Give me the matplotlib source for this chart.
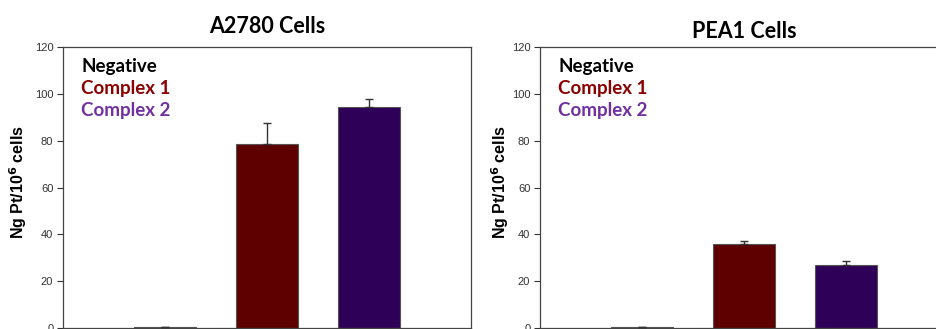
import matplotlib
matplotlib.use("Agg")
import matplotlib.pyplot as plt

# Data: Pt uptake (ng Pt per 10^6 cells)
groups = ["Negative", "Complex 1", "Complex 2"]
a2780_values = [0.5, 78.5, 94.4]
a2780_errors = [0.0, 9.2, 3.3]
pea1_values = [0.5, 36.0, 26.8]
pea1_errors = [0.0, 1.0, 2.0]
panel_titles = ["A2780 Cells", "PEA1 Cells"]
yticks = [0, 20, 40, 60, 80, 100, 120]

bar_colors = ["#4a4a4a", "#5e0000", "#2f0058"]
label_colors = ["#000000", "#8b0000", "#7030a0"]

fig = plt.figure(figsize=(9.36, 3.29), dpi=100)

W, H = 936.0, 329.0
def frac_rect(x0, x1, ytop, ybot):
    return [x0 / W, (H - ybot) / H, (x1 - x0) / W, (ybot - ytop) / H]

ax1 = fig.add_axes(frac_rect(63, 471, 47, 328))
ax2 = fig.add_axes(frac_rect(540, 948, 47, 328))

panels = [
    (ax1, a2780_values, a2780_errors, panel_titles[0], -0.083, 1.050),
    (ax2, pea1_values, pea1_errors, panel_titles[1], -0.072, 1.032),
]

positions = [1, 2, 3]
for ax, vals, errs, title, ylab_x, title_y in panels:
    ax.bar(positions, vals, width=0.6, color=bar_colors,
           edgecolor="#555555", linewidth=0.8, zorder=2)
    ax.errorbar(positions, vals, yerr=[[0] * len(errs), errs], fmt="none",
                ecolor="#333333", elinewidth=1.0, capsize=3.2, capthick=1.0,
                zorder=3)
    ax.set_xlim(0, 4)
    ax.set_ylim(0, 120)
    ax.set_yticks(yticks)
    ax.set_yticklabels([str(t) for t in yticks], fontsize=8,
                       color="#333333", family="Liberation Sans")
    ax.set_xticks([])
    ax.tick_params(axis="y", direction="out", length=4, width=0.8,
                   color="#333333", pad=3)
    for sp in ax.spines.values():
        sp.set_color("#444444")
        sp.set_linewidth(0.9)
    ax.set_ylabel("Ng Pt/10$^{\\mathbf{6}}$ cells", fontsize=11.5,
                  fontweight="bold", family="Liberation Sans")
    ax.yaxis.set_label_coords(ylab_x, 0.52)
    ax.text(0.5, title_y, title, transform=ax.transAxes, ha="center",
            va="baseline", fontsize=15.5, fontweight="bold", family="Lato")
    for i, (name, col) in enumerate(zip(groups, label_colors)):
        ax.text(0.045, 0.929 - i * 0.077, name, transform=ax.transAxes,
                ha="left", va="center", fontsize=13.5, fontweight="bold",
                color=col, family="Lato")

fig.savefig("out.png", dpi=100)
